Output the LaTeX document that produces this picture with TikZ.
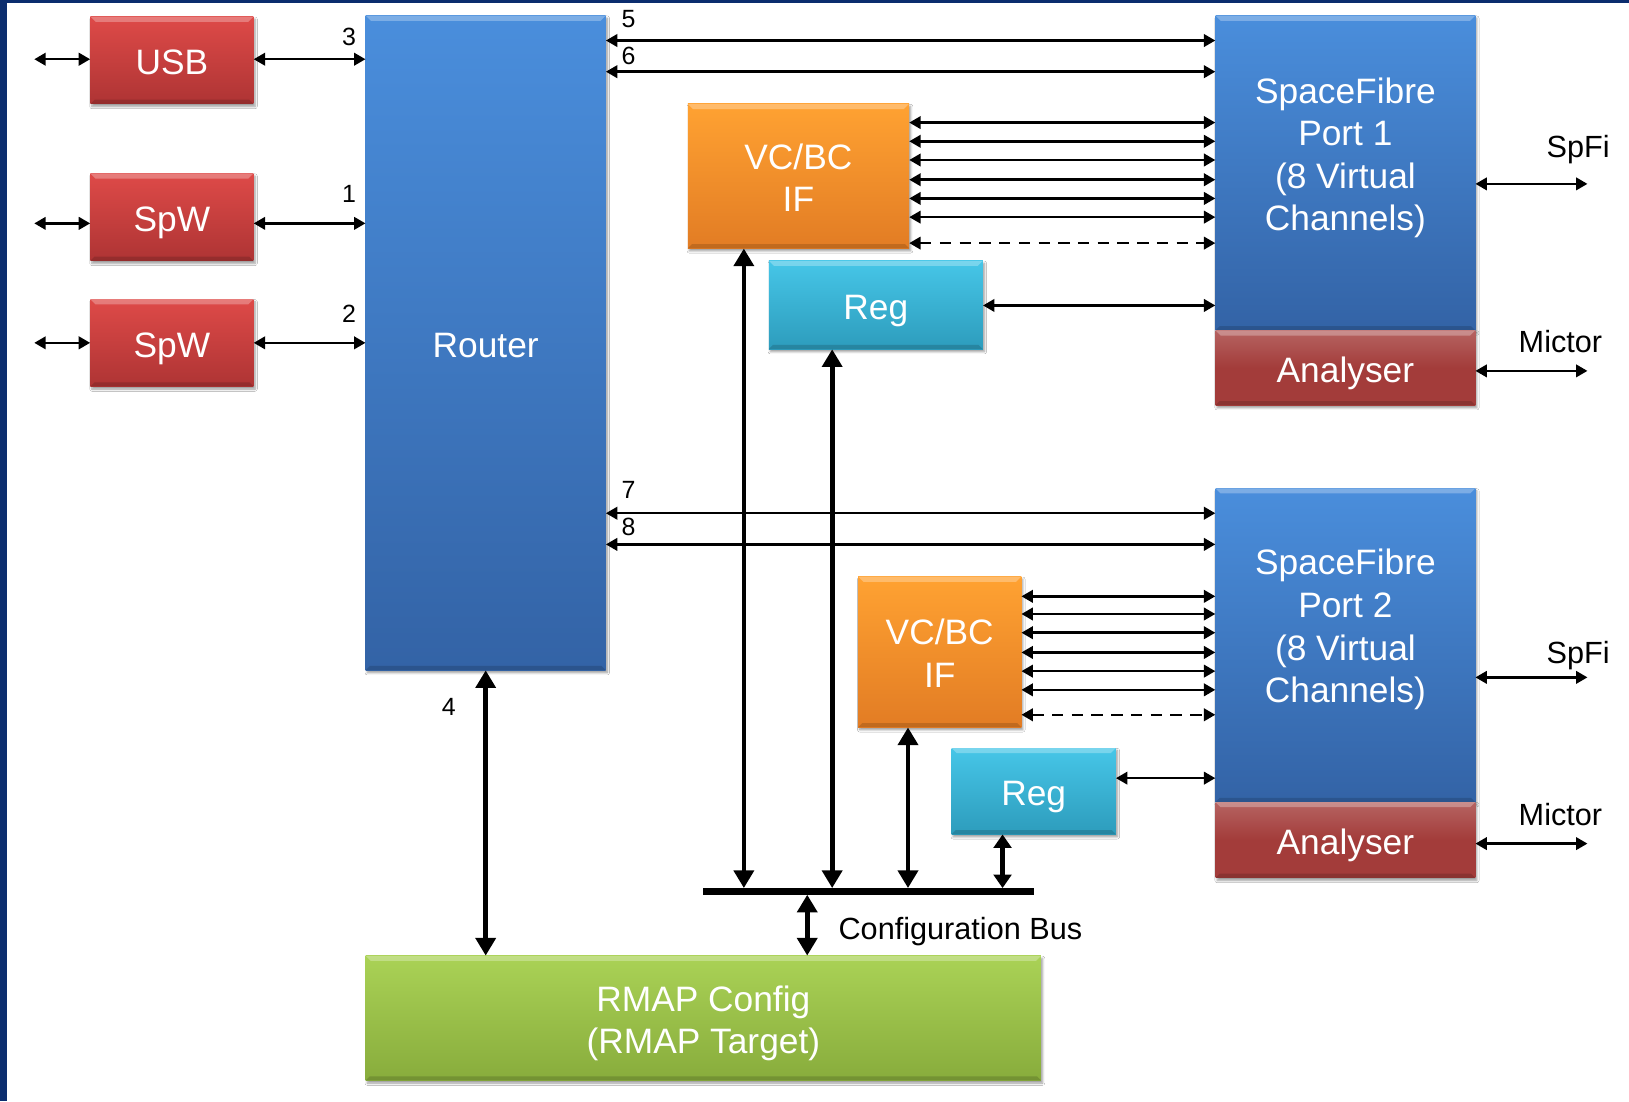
\documentclass[tikz,border=0pt]{standalone}
\usepackage{fontspec}
\setmainfont{Liberation Sans}
\usetikzlibrary{arrows.meta,shadows.blur}

\definecolor{framebl}{HTML}{0B2D6E}
\definecolor{redT}{HTML}{DE4A48}
\definecolor{redB}{HTML}{AE3434}
\definecolor{bluT}{HTML}{4A8EDC}
\definecolor{bluB}{HTML}{3363A6}
\definecolor{orgT}{HTML}{FFA232}
\definecolor{orgB}{HTML}{E27C24}
\definecolor{cyaT}{HTML}{46C6E8}
\definecolor{cyaB}{HTML}{2D9CBC}
\definecolor{grnT}{HTML}{AAD256}
\definecolor{grnB}{HTML}{88AC3C}
\definecolor{anaC}{HTML}{A33C3A}

\begin{document}
\begin{tikzpicture}[x=1pt,y=-1pt,
  blk/.style={draw=none, inner sep=0pt, text=white, align=center,
    font=\fontsize{34}{41}\selectfont, text height=34.8pt, text depth=7.2pt,
    blur shadow={shadow xshift=1.5pt, shadow yshift=-2.5pt, shadow opacity=40, shadow blur steps=6},
    path picture={
      \fill[white,opacity=.28] (path picture bounding box.north west) -- (path picture bounding box.north east)
        -- ([xshift=-5pt,yshift=-5pt]path picture bounding box.north east)
        -- ([xshift=5pt,yshift=-5pt]path picture bounding box.north west) -- cycle;
      \fill[black,opacity=.15] (path picture bounding box.south west) -- (path picture bounding box.south east)
        -- ([xshift=-4pt,yshift=4pt]path picture bounding box.south east)
        -- ([xshift=4pt,yshift=4pt]path picture bounding box.south west) -- cycle;
    }},
  twolines/.style={text height=75.8pt},
  fourlines/.style={text height=157.8pt},
  redbox/.style={blk, top color=redT, bottom color=redB},
  bluebox/.style={blk, top color=bluT, bottom color=bluB},
  orgbox/.style={blk, top color=orgT, bottom color=orgB},
  cyanbox/.style={blk, top color=cyaT, bottom color=cyaB},
  grnbox/.style={blk, top color=grnT, bottom color=grnB},
  anabox/.style={blk, top color=anaC!80!white, bottom color=anaC, middle color=anaC},
  arr/.style={{Triangle[length=11pt,width=12pt]}-{Triangle[length=11pt,width=12pt]}, line width=2.4pt},
  darr/.style={arr, dash pattern=on 11pt off 8pt},
  bigarr/.style={{Triangle[length=17pt,width=19pt]}-{Triangle[length=17pt,width=19pt]}, line width=4.5pt},
  smallbig/.style={{Triangle[length=13pt,width=17pt]}-{Triangle[length=13pt,width=17pt]}, line width=4.5pt},
  num/.style={font=\fontsize{24}{24}\selectfont, inner sep=0pt},
  lbl/.style={font=\fontsize{29.5}{29.5}\selectfont, inner sep=0pt},
  wtxt/.style={text=white, align=center, font=\fontsize{34}{41}\selectfont, inner sep=0pt,
    text height=157.8pt, text depth=7.2pt}
]
\useasboundingbox (0,0) rectangle (1568,1060);
\fill[white] (0,0) rectangle (1568,1060);
% frame bars
\fill[framebl] (0,0) rectangle (7,1060);
\fill[framebl] (0,0) rectangle (1568,3);

% interface blocks on the left
\node[redbox, minimum width=157pt, minimum height=84pt] (usb) at (165.5,58) {USB};
\node[redbox, minimum width=157pt, minimum height=84pt] (spw1) at (165.5,209) {SpW};
\node[redbox, minimum width=157pt, minimum height=84pt] (spw2) at (165.5,330) {SpW};

% router
\node[bluebox, minimum width=231pt, minimum height=630pt] (router) at (467.5,330) {Router};

% SpaceFibre ports with analysers
\node[bluebox, minimum width=250pt, minimum height=303pt] (sf1) at (1295,166.5) {};
\node[anabox, minimum width=250pt, minimum height=72pt] (an1) at (1295,354) {Analyser};
\node[wtxt] (sf1t) at (1295,147) {SpaceFibre\\Port 1\\(8 Virtual\\Channels)};
\node[bluebox, minimum width=250pt, minimum height=302pt] (sf2) at (1295,621) {};
\node[anabox, minimum width=250pt, minimum height=73pt] (an2) at (1295,808.5) {Analyser};
\node[wtxt] (sf2t) at (1295,601) {SpaceFibre\\Port 2\\(8 Virtual\\Channels)};

% virtual channel / broadcast interfaces
\node[orgbox, twolines, minimum width=213pt, minimum height=139pt] (vc1) at (768.5,169.5) {VC/BC\\IF};
\node[orgbox, twolines, minimum width=157pt, minimum height=145pt] (vc2) at (904.5,627.5) {VC/BC\\IF};

% registers
\node[cyanbox, minimum width=206pt, minimum height=85pt] (reg1) at (843,293.5) {Reg};
\node[cyanbox, minimum width=158pt, minimum height=83pt] (reg2) at (995,761.5) {Reg};

% RMAP configuration
\node[grnbox, twolines, minimum width=650pt, minimum height=120pt] (rmap) at (677,980) {RMAP Config\\(RMAP Target)};

% external links
\coordinate (xU) at (33,57);
\coordinate (xS1) at (33,215);
\coordinate (xS2) at (33,330);
\draw[arr] (xU) -- (usb.west |- xU);
\draw[arr] (xS1) -- (spw1.west |- xS1);
\draw[arr] (xS2) -- (spw2.west |- xS2);

% links into the router
\draw[arr] (usb.east |- xU) -- (router.west |- xU);
\draw[arr] (spw1.east |- xS1) -- (router.west |- xS1);
\draw[arr] (spw2.east |- xS2) -- (router.west |- xS2);
\node[num] (n3) at (336,36) {3};
\node[num] (n1) at (336,187) {1};
\node[num] (n2) at (336,302) {2};

% router ports to SpaceFibre ports
\coordinate (y5) at (0,39);
\coordinate (y6) at (0,69);
\coordinate (y7) at (0,494);
\coordinate (y8) at (0,524);
\draw[arr] (router.east |- y5) -- (sf1.west |- y5);
\draw[arr] (router.east |- y6) -- (sf1.west |- y6);
\draw[arr] (router.east |- y7) -- (sf2.west |- y7);
\draw[arr] (router.east |- y8) -- (sf2.west |- y8);
\node[num] (n5) at (605,18) {5};
\node[num] (n6) at (605,54) {6};
\node[num] (n7) at (605,472) {7};
\node[num] (n8) at (605,507) {8};

% virtual channel links
\foreach \yy in {118,136,154,173,191,209}
  \draw[arr] (vc1.east |- 0,\yy) -- (sf1.west |- 0,\yy);
\draw[darr] (vc1.east |- 0,234) -- (sf1.west |- 0,234);
\foreach \yy in {574,591,609,628,646,664}
  \draw[arr] (vc2.east |- 0,\yy) -- (sf2.west |- 0,\yy);
\draw[darr] (vc2.east |- 0,688) -- (sf2.west |- 0,688);

% register links
\draw[arr] (reg1.east |- 0,294) -- (sf1.west |- 0,294);
\draw[arr] (reg2.east |- 0,749) -- (sf2.west |- 0,749);

% external SpaceFibre and Mictor links
\coordinate (o1) at (1528,177);
\coordinate (m1) at (1528,357);
\coordinate (o2) at (1528,652);
\coordinate (m2) at (1528,812);
\draw[arr] (sf1.east |- o1) -- (o1);
\draw[arr] (an1.east |- m1) -- (m1);
\draw[arr] (sf2.east |- o2) -- (o2);
\draw[arr] (an2.east |- m2) -- (m2);
\node[lbl] (l1) at (1519,144) {SpFi};
\node[lbl] (l2) at (1502,329) {Mictor};
\node[lbl] (l3) at (1519,631) {SpFi};
\node[lbl] (l4) at (1502,784) {Mictor};

% configuration bus
\coordinate (busL) at (677,858);
\coordinate (busR) at (995,858);
\draw[line width=6.4pt] (busL) -- (busR);
\coordinate (t0) at (777,858);
\coordinate (t1) at (716,858);
\coordinate (t2) at (801,858);
\coordinate (t3) at (874,858);
\coordinate (t4) at (965,858);
\draw[bigarr] (vc1.south -| t1) -- ([yshift=3.2pt]t1);
\draw[bigarr] (reg1.south -| t2) -- ([yshift=3.2pt]t2);
\draw[bigarr] (vc2.south -| t3) -- ([yshift=3.2pt]t3);
\draw[smallbig] (reg2.south -| t4) -- ([yshift=3.2pt]t4);
\draw[bigarr] ([yshift=-3.2pt]t0) -- (rmap.north -| t0);
\draw[bigarr] (router.south) -- (rmap.north -| router.south);
\node[num] (n4) at (432,680) {4};
\node[lbl, anchor=west] (cbus) at (807,897) {Configuration Bus};
\end{tikzpicture}
\end{document}
